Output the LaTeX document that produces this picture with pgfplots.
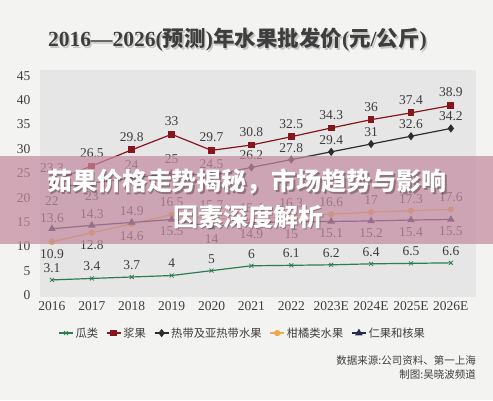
\documentclass[border=0pt]{standalone}
\usepackage{fontspec}
\setmainfont{Liberation Serif}
\newfontfamily\cjk{Noto Sans CJK SC}
\usepackage{pgfplots}
\pgfplotsset{compat=1.18}
\definecolor{bgc}{RGB}{243,243,241}
\definecolor{plotbg}{RGB}{230,230,230}
\definecolor{cgreen}{RGB}{46,125,82}
\definecolor{cred}{RGB}{135,22,28}
\definecolor{cblack}{RGB}{45,45,45}
\definecolor{cgold}{RGB}{236,170,70}
\definecolor{cnavy}{RGB}{40,42,80}
\definecolor{txt}{RGB}{62,62,62}
\definecolor{banner}{RGB}{196,139,160}
\begin{document}
\begin{tikzpicture}[x=1pt,y=1pt]
\fill[bgc] (0,0) rectangle (493,400);
\path[use as bounding box] (0,0) rectangle (493,400);
\begin{axis}[at={(40pt,103pt)}, anchor=south west, scale only axis,
  width=436pt, height=227pt,
  xmin=-0.3, xmax=10.63, ymin=-0.41, ymax=46.2,
  axis line style={draw=none}, tick style={draw=none},
  axis background/.style={fill=plotbg},
  xtick={0,...,10},
  xticklabels={2016,2017,2018,2019,2020,2021,2022,2023E,2024E,2025E,2026E},
  ytick={0,5,...,45},
  /pgf/number format/assume math mode=true,
  ticklabel style={font=\fontsize{13.5}{13.5}\selectfont, text=txt},
  yticklabel style={xshift=-6pt},
  xticklabel style={yshift=-1pt},
  point meta=explicit symbolic,
  nodes near coords,
  visualization depends on={value \thisrow{s}\as\sh},
  every node near coord/.append style={anchor=center, yshift=\sh pt,
     font=\fontsize{13.5}{13.5}\selectfont, text=txt},
  legend style={at={(0.465,-0.159)}, anchor=center, draw=none, fill=none,
     legend columns=5, font=\cjk\fontsize{11.3}{11.3}\selectfont, text=txt,
     /tikz/every even column/.append style={column sep=6pt}},
  legend image code/.code={\draw[mark repeat=2,mark phase=2,#1] plot coordinates {(0pt,0pt)(7pt,0pt)(14pt,0pt)};},
]
\addplot[cgreen, line width=1.2pt, mark=x, mark size=2.8pt, mark options={solid,line width=0.8pt}]
 table[x=x,y=y,meta=y] {
x y s
0 3.1 12
1 3.4 12
2 3.7 12
3 4 12
4 5 12
5 6 12
6 6.1 12
7 6.2 12
8 6.4 12
9 6.5 12
10 6.6 12
};
\addlegendentry{瓜类}
\addplot[cred, line width=1.2pt, mark=square*, mark size=2.8pt, mark options={solid}]
 table[x=x,y=y,meta=y] {
x y s
0 23.3 13
1 26.5 13
2 29.8 13
3 33 13
4 29.7 13
5 30.8 13
6 32.5 13
7 34.3 13
8 36 13
9 37.4 13
10 38.9 13
};
\addlegendentry{浆果}
\addplot[cblack, line width=1.2pt, mark=diamond*, mark size=3.2pt, mark options={solid}]
 table[x=x,y=y,meta=y] {
x y s
0 22 -13
1 23 -13
2 24 13
3 25 14
4 24.5 12
5 26.2 12
6 27.8 12
7 29.4 12
8 31 12
9 32.6 12
10 34.2 12
};
\addlegendentry{热带及亚热带水果}
\addplot[cgold, line width=1.2pt, mark=*, mark size=2.5pt, mark options={solid}]
 table[x=x,y=y,meta=y] {
x y s
0 10.9 -12
1 12.8 -12
2 14.6 -12
3 16.5 13
4 15.7 13
5 15.4 12
6 16.3 12
7 16.6 12
8 17 12
9 17.3 12
10 17.6 12
};
\addlegendentry{柑橘类水果}
\addplot[cnavy, line width=1.2pt, mark=triangle*, mark size=3.2pt, mark options={solid}]
 table[x=x,y=y,meta=y] {
x y s
0 13.6 11
1 14.3 11
2 14.9 11
3 15.5 -12
4 14 -12
5 14.9 -12
6 15 -12
7 15.1 -12
8 15.2 -12
9 15.4 -12
10 15.5 -12
};
\addlegendentry{仁果和核果}
\end{axis}
% title
\node[text=black, opacity=0.18] at (239,358.5) {\bfseries\fontsize{21.5}{21.5}\selectfont 2016—2026({\cjk 预测}){\cjk 年水果批发价}({\cjk 元}/{\cjk 公斤})};
\node[text=txt] at (237.5,360) {\bfseries\fontsize{21.5}{21.5}\selectfont 2016—2026({\cjk 预测}){\cjk 年水果批发价}({\cjk 元}/{\cjk 公斤})};
% source
\node[anchor=east, text=txt, inner sep=0] at (476,40) {\cjk\fontsize{10.5}{10.5}\selectfont 数据来源:公司资料、第一上海};
\node[anchor=east, text=txt, inner sep=0] at (476,25) {\cjk\fontsize{10.5}{10.5}\selectfont 制图:吴晓波频道};
% banner
\fill[banner, opacity=0.72] (0,156) rectangle (493,244);
\node[text=black, opacity=0.3] at (248.3,216.7) {\cjk\bfseries\fontsize{25}{25}\selectfont 茹果价格走势揭秘，市场趋势与影响};
\node[text=white] at (247,218) {\cjk\bfseries\fontsize{25}{25}\selectfont 茹果价格走势揭秘，市场趋势与影响};
\node[text=black, opacity=0.3] at (249.3,181.7) {\cjk\bfseries\fontsize{25}{25}\selectfont 因素深度解析};
\node[text=white] at (248,183) {\cjk\bfseries\fontsize{25}{25}\selectfont 因素深度解析};
\end{tikzpicture}
\end{document}
